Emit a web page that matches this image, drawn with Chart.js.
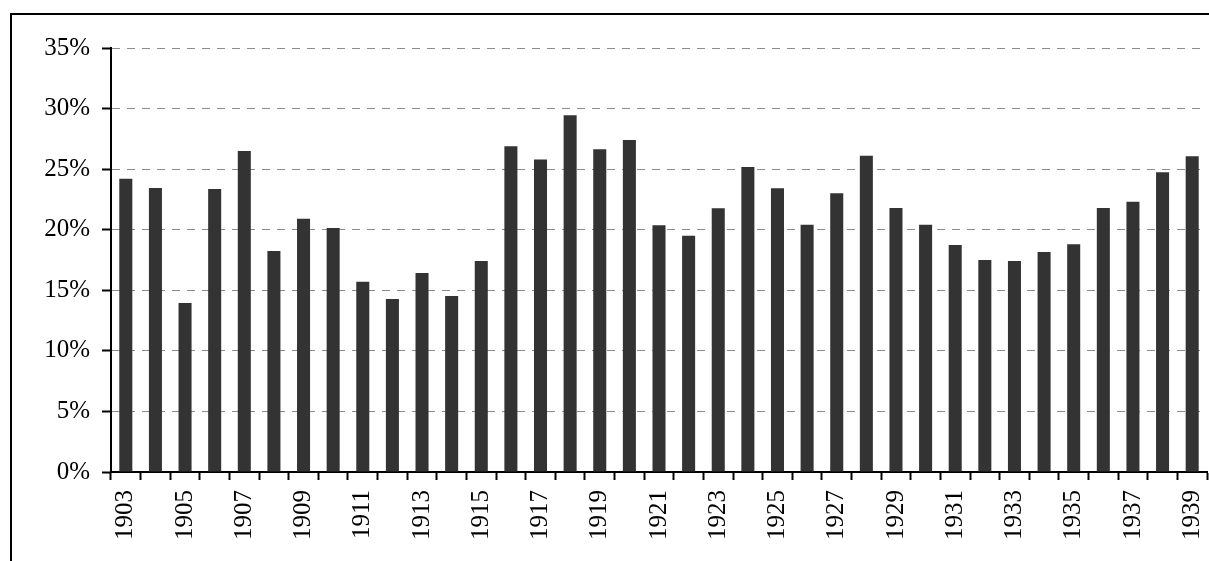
<!DOCTYPE html>
<html>
<head>
<meta charset="utf-8">
<script src="https://cdn.jsdelivr.net/npm/chart.js@4/dist/chart.umd.min.js"></script>
<style>
    html, body { margin: 0; padding: 0; background: #ffffff; overflow: hidden; }
    #frame {
        position: absolute;
        left: 10px;
        top: 13px;
        width: 1400px;
        height: 800px;
        border-left: 2px solid #000000;
        border-top: 2px solid #000000;
    }
    #wrap { position: absolute; left: 0; top: 0; width: 1209px; height: 561px; }
    #warm { position: absolute; left: -999px; font: 25px "Liberation Serif"; }
</style>
</head>
<body>
<div id="frame"></div>
<span id="warm">0123456789%</span>
<div id="wrap"><canvas id="chart"></canvas></div>
<script>
const YEARS = [
    "1903", "1904", "1905", "1906", "1907", "1908", "1909", "1910", "1911", "1912",
    "1913", "1914", "1915", "1916", "1917", "1918", "1919", "1920", "1921", "1922",
    "1923", "1924", "1925", "1926", "1927", "1928", "1929", "1930", "1931", "1932",
    "1933", "1934", "1935", "1936", "1937", "1938", "1939",
];

// share per year, in percent
const SHARE = [
    24.2, 23.45, 13.95, 23.37, 26.5, 18.25, 20.9, 20.15, 15.7, 14.28,
    16.43, 14.53, 17.42, 26.9, 25.8, 29.45, 26.65, 27.4, 20.37, 19.5,
    21.77, 25.18, 23.43, 20.4, 23.0, 26.1, 21.8, 20.4, 18.74, 17.5,
    17.42, 18.16, 18.8, 21.8, 22.3, 24.75, 26.06,
];

const Y_MAX = 35;
const Y_STEP = 5;

const FONT = { family: "Liberation Serif", size: 25 };

function drawChart() {
    new Chart(document.getElementById("chart"), {
        type: "bar",
        data: {
            labels: YEARS,
            datasets: [
                {
                    data: SHARE,
                    backgroundColor: "#333333",
                    borderWidth: 0,
                    categoryPercentage: 1,
                    barPercentage: 0.44,
                },
            ],
        },
        options: {
            responsive: true,
            maintainAspectRatio: false,
            animation: false,
            layout: { padding: { top: 48, right: 2, bottom: 0, left: 0 } },
            plugins: {
                legend: { display: false },
                tooltip: { enabled: false },
            },
            scales: {
                x: {
                    grid: {
                        drawOnChartArea: false,
                        drawTicks: true,
                        tickLength: 8,
                        tickColor: "#000000",
                        tickWidth: 2,
                        offset: true,
                    },
                    border: { color: "#000000", width: 2 },
                    ticks: {
                        color: "#000000",
                        font: FONT,
                        autoSkip: false,
                        minRotation: 90,
                        maxRotation: 90,
                        padding: 10,
                        callback: (value, index) => (index % 2 === 0 ? YEARS[index] : ""),
                    },
                    afterFit: (scale) => {
                        scale.height = 89;
                        scale.paddingLeft = 0;
                        scale.paddingRight = 0;
                    },
                },
                y: {
                    min: 0,
                    max: Y_MAX,
                    grid: {
                        color: "#8c8c8c",
                        lineWidth: 1,
                        drawTicks: true,
                        tickLength: 9,
                        tickColor: "#000000",
                        tickWidth: 2,
                        tickBorderDash: [],
                    },
                    border: { color: "#000000", width: 2, dash: [8, 7] },
                    ticks: {
                        color: "#000000",
                        font: FONT,
                        stepSize: Y_STEP,
                        padding: 12,
                        callback: (value) => `${value}%`,
                    },
                    afterFit: (scale) => {
                        scale.width = 111;
                        scale.paddingTop = 0;
                        scale.paddingBottom = 0;
                    },
                },
            },
        },
    });
}

document.fonts.load('25px "Liberation Serif"').then(drawChart, drawChart);
</script>
</body>
</html>
